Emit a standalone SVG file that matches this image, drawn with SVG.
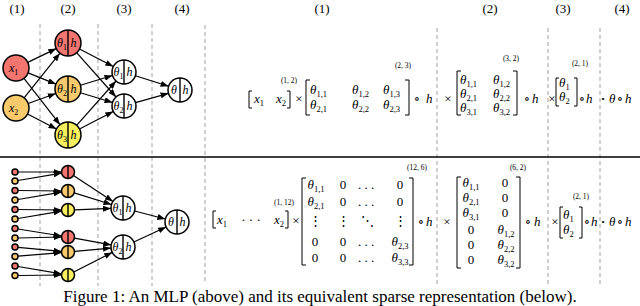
<svg xmlns="http://www.w3.org/2000/svg" width="640" height="306" viewBox="0 0 640 306">
<defs>
<marker id="ah" markerWidth="8" markerHeight="6" refX="8" refY="3" orient="auto" markerUnits="userSpaceOnUse">
<path d="M0,0 L8,3 L0,6 z" fill="#000"/>
</marker>
<style>
.n{stroke:#000;stroke-width:1.5}
.red{fill:#f37570}.org{fill:#f8ca6b}.yel{fill:#f8ef5e}.wht{fill:#fff}
.dv{stroke:#000;stroke-width:1.4}
.dash{stroke:#a0a0a0;stroke-width:1;stroke-dasharray:4,3}
.e{stroke:#000;stroke-width:1.2;fill:none;marker-end:url(#ah)}
.t{font-family:"Liberation Serif","DejaVu Serif",serif;font-size:12px;fill:#000}
.i{font-style:italic}
.s{font-size:8px;font-style:normal}
.sup{font-size:7px}
.lab{font-size:13px}
.br{fill:none;stroke:#000;stroke-width:1}
.m{text-anchor:middle}
.eq .t{font-size:13px}
.eq .s{font-size:8.5px}
.eq .sup{font-size:7.5px}
.eq .bul{font-size:9px}
.cap{font-size:17px}
</style>
</defs>
<rect width="640" height="306" fill="#fff"/>
<g id="guides">
<line class="dash" x1="40" y1="24" x2="40" y2="286"/>
<line class="dash" x1="98" y1="24" x2="98" y2="286"/>
<line class="dash" x1="152" y1="24" x2="152" y2="286"/>
<line class="dash" x1="205" y1="25" x2="205" y2="282"/>
<line class="dash" x1="437" y1="28" x2="437" y2="286"/>
<line class="dash" x1="548" y1="28" x2="548" y2="286"/>
<line class="dash" x1="600" y1="28" x2="600" y2="286"/>
<line x1="0" y1="157" x2="640" y2="157" stroke="#000" stroke-width="1.5"/>
</g>
<g id="labels">
<text class="t lab m" x="17" y="13">(1)</text>
<text class="t lab m" x="68" y="13">(2)</text>
<text class="t lab m" x="124" y="13">(3)</text>
<text class="t lab m" x="182" y="13">(4)</text>
<text class="t lab m" x="322" y="13">(1)</text>
<text class="t lab m" x="490" y="13">(2)</text>
<text class="t lab m" x="563" y="13">(3)</text>
<text class="t lab m" x="622" y="13">(4)</text>
</g>
<g id="connectors">
<line class="e" x1="27.7" y1="62.4" x2="56.3" y2="48.6"/>
<line class="e" x1="28.1" y1="72.9" x2="56.0" y2="84.1"/>
<line class="e" x1="24.0" y1="78.3" x2="60.0" y2="124.7"/>
<line class="e" x1="24.1" y1="97.8" x2="59.9" y2="53.2"/>
<line class="e" x1="28.2" y1="103.5" x2="55.8" y2="93.5"/>
<line class="e" x1="27.5" y1="114.0" x2="56.5" y2="129.0"/>
<line class="e" x1="79.5" y1="49.0" x2="113.3" y2="66.5"/>
<line class="e" x1="76.6" y1="52.7" x2="116.0" y2="97.0"/>
<line class="e" x1="80.4" y1="85.2" x2="112.5" y2="75.5"/>
<line class="e" x1="80.4" y1="92.8" x2="112.5" y2="102.5"/>
<line class="e" x1="76.6" y1="125.3" x2="116.0" y2="81.0"/>
<line class="e" x1="79.5" y1="129.0" x2="113.3" y2="111.5"/>
<line class="e" x1="135.4" y1="75.7" x2="168.6" y2="86.3"/>
<line class="e" x1="135.5" y1="102.7" x2="168.5" y2="93.3"/>
<line class="e" x1="18" y1="172" x2="61.5" y2="172"/>
<line class="e" x1="18" y1="180.5" x2="61.6" y2="173.1"/>
<line class="e" x1="18" y1="190.5" x2="61.5" y2="191"/>
<line class="e" x1="18" y1="199.5" x2="61.6" y2="192.1"/>
<line class="e" x1="18" y1="209.5" x2="61.5" y2="210"/>
<line class="e" x1="18" y1="218.5" x2="61.6" y2="211.1"/>
<line class="e" x1="18" y1="229" x2="61.6" y2="236"/>
<line class="e" x1="18" y1="238" x2="61.5" y2="237"/>
<line class="e" x1="18" y1="247.3" x2="61.5" y2="251.4"/>
<line class="e" x1="18" y1="256.2" x2="61.5" y2="252.6"/>
<line class="e" x1="18" y1="266.5" x2="61.6" y2="273.9"/>
<line class="e" x1="18" y1="275.5" x2="61.5" y2="275"/>
<line class="e" x1="73.4" y1="175.6" x2="113.0" y2="201.4"/>
<line class="e" x1="74.2" y1="192.9" x2="111.5" y2="204.5"/>
<line class="e" x1="74.5" y1="209.8" x2="111.0" y2="208.4"/>
<line class="e" x1="74.4" y1="238.2" x2="111.2" y2="244.9"/>
<line class="e" x1="74.5" y1="251.4" x2="111.0" y2="248.1"/>
<line class="e" x1="73.8" y1="272.0" x2="112.3" y2="252.4"/>
<line class="e" x1="134.6" y1="211.0" x2="165.4" y2="219.0"/>
<line class="e" x1="133.9" y1="242.0" x2="166.1" y2="227.0"/>
</g>
<g id="x1"><circle class="n red" cx="16" cy="68" r="13"/><text class="t i" x="9" y="72">x<tspan class="s" dy="3">1</tspan></text></g>
<g id="x2"><circle class="n org" cx="16" cy="108" r="13"/><text class="t i" x="9" y="112">x<tspan class="s" dy="3">2</tspan></text></g>
<g id="t1"><circle class="n red" cx="68" cy="43" r="13"/><line class="dv" x1="68" y1="30" x2="68" y2="56"/><text class="t i" x="57" y="47">θ<tspan class="s" dy="3">1</tspan></text><text class="t i" x="70.5" y="47">h</text></g>
<g id="t2"><circle class="n org" cx="68" cy="89" r="13"/><line class="dv" x1="68" y1="76" x2="68" y2="102"/><text class="t i" x="57" y="93">θ<tspan class="s" dy="3">2</tspan></text><text class="t i" x="70.5" y="93">h</text></g>
<g id="t3"><circle class="n yel" cx="68" cy="135" r="13"/><line class="dv" x1="68" y1="122" x2="68" y2="148"/><text class="t i" x="57" y="139">θ<tspan class="s" dy="3">3</tspan></text><text class="t i" x="70.5" y="139">h</text></g>
<g id="u1"><circle class="n wht" cx="124" cy="72" r="12"/><line class="dv" x1="124" y1="60" x2="124" y2="84"/><text class="t i" x="113.5" y="76">θ<tspan class="s" dy="3">1</tspan></text><text class="t i" x="126.5" y="76">h</text></g>
<g id="u2"><circle class="n wht" cx="124" cy="106" r="12"/><line class="dv" x1="124" y1="94" x2="124" y2="118"/><text class="t i" x="113.5" y="110">θ<tspan class="s" dy="3">2</tspan></text><text class="t i" x="126.5" y="110">h</text></g>
<g id="v"><circle class="n wht" cx="180" cy="90" r="12"/><line class="dv" x1="180" y1="78" x2="180" y2="102"/><text class="t i" x="171" y="94">θ</text><text class="t i" x="182.5" y="94">h</text></g>
<g id="inputs">
<circle class="n red" cx="15" cy="172" r="3" stroke-width="1.2"/>
<circle class="n org" cx="15" cy="181" r="3" stroke-width="1.2"/>
<circle class="n red" cx="15" cy="190.5" r="3" stroke-width="1.2"/>
<circle class="n org" cx="15" cy="200" r="3" stroke-width="1.2"/>
<circle class="n red" cx="15" cy="209.5" r="3" stroke-width="1.2"/>
<circle class="n org" cx="15" cy="219" r="3" stroke-width="1.2"/>
<circle class="n red" cx="15" cy="228.5" r="3" stroke-width="1.2"/>
<circle class="n org" cx="15" cy="238" r="3" stroke-width="1.2"/>
<circle class="n red" cx="15" cy="247" r="3" stroke-width="1.2"/>
<circle class="n org" cx="15" cy="256.5" r="3" stroke-width="1.2"/>
<circle class="n red" cx="15" cy="266" r="3" stroke-width="1.2"/>
<circle class="n org" cx="15" cy="275.5" r="3" stroke-width="1.2"/>
</g>
<g id="r1"><circle class="n red" cx="68" cy="172" r="6.5"/><line class="dv" x1="68" y1="165.5" x2="68" y2="178.5"/></g>
<g id="o1"><circle class="n org" cx="68" cy="191" r="6.5"/><line class="dv" x1="68" y1="184.5" x2="68" y2="197.5"/></g>
<g id="y1"><circle class="n yel" cx="68" cy="210" r="6.5"/><line class="dv" x1="68" y1="203.5" x2="68" y2="216.5"/></g>
<g id="r2"><circle class="n red" cx="68" cy="237" r="6.5"/><line class="dv" x1="68" y1="230.5" x2="68" y2="243.5"/></g>
<g id="o2"><circle class="n org" cx="68" cy="252" r="6.5"/><line class="dv" x1="68" y1="245.5" x2="68" y2="258.5"/></g>
<g id="y2"><circle class="n yel" cx="68" cy="275" r="6.5"/><line class="dv" x1="68" y1="268.5" x2="68" y2="281.5"/></g>
<g id="p1"><circle class="n wht" cx="123" cy="208" r="12"/><line class="dv" x1="123" y1="196" x2="123" y2="220"/><text class="t i" x="112.5" y="212">θ<tspan class="s" dy="3">1</tspan></text><text class="t i" x="125.5" y="212">h</text></g>
<g id="p2"><circle class="n wht" cx="123" cy="247" r="12"/><line class="dv" x1="123" y1="235" x2="123" y2="259"/><text class="t i" x="112.5" y="251">θ<tspan class="s" dy="3">2</tspan></text><text class="t i" x="125.5" y="251">h</text></g>
<g id="q"><circle class="n wht" cx="177" cy="222" r="12"/><line class="dv" x1="177" y1="210" x2="177" y2="234"/><text class="t i" x="168" y="226">θ</text><text class="t i" x="179.5" y="226">h</text></g>
<g id="eq-top" class="eq">
<path class="br" d="M252,91 H249 V108 H252"/>
<text class="t i" x="254" y="103">x<tspan class="s" dy="3">1</tspan></text>
<text class="t i" x="276" y="103">x<tspan class="s" dy="3">2</tspan></text>
<path class="br" d="M287,91 H290 V108 H287"/>
<text class="t sup m" x="289" y="83">(1, 2)</text>
<text class="t m" x="299" y="103">×</text>
<path class="br" d="M310,80 H306 V115 H310"/>
<text class="t i" x="310" y="94">θ<tspan class="s" dy="3">1,1</tspan></text>
<text class="t i" x="352" y="94">θ<tspan class="s" dy="3">1,2</tspan></text>
<text class="t i" x="383" y="94">θ<tspan class="s" dy="3">1,3</tspan></text>
<text class="t i" x="310" y="109">θ<tspan class="s" dy="3">2,1</tspan></text>
<text class="t i" x="352" y="109">θ<tspan class="s" dy="3">2,2</tspan></text>
<text class="t i" x="383" y="109">θ<tspan class="s" dy="3">2,3</tspan></text>
<path class="br" d="M405,80 H409 V115 H405"/>
<text class="t sup m" x="403" y="68">(2, 3)</text>
<text class="t m" x="417" y="103">∘</text>
<text class="t i" x="426" y="103">h</text>
<text class="t m" x="448" y="103">×</text>
<path class="br" d="M461,71 H457 V115 H461"/>
<text class="t i" x="460" y="84">θ<tspan class="s" dy="3">1,1</tspan></text>
<text class="t i" x="493" y="84">θ<tspan class="s" dy="3">1,2</tspan></text>
<text class="t i" x="460" y="98">θ<tspan class="s" dy="3">2,1</tspan></text>
<text class="t i" x="493" y="98">θ<tspan class="s" dy="3">2,2</tspan></text>
<text class="t i" x="460" y="112">θ<tspan class="s" dy="3">3,1</tspan></text>
<text class="t i" x="493" y="112">θ<tspan class="s" dy="3">3,2</tspan></text>
<path class="br" d="M513,71 H517 V115 H513"/>
<text class="t sup m" x="511" y="61">(3, 2)</text>
<text class="t m" x="527" y="103">∘</text>
<text class="t i" x="532" y="103">h</text>
<text class="t m" x="552" y="103">×</text>
<path class="br" d="M559,78 H556 V106 H559"/>
<text class="t i" x="559" y="87">θ<tspan class="s" dy="3">1</tspan></text>
<text class="t i" x="559" y="101">θ<tspan class="s" dy="3">2</tspan></text>
<path class="br" d="M574,78 H577 V106 H574"/>
<text class="t sup m" x="580" y="66">(2, 1)</text>
<text class="t m" x="582" y="103">∘</text>
<text class="t i" x="586" y="103">h</text>
<text class="t m bul" x="603" y="102">•</text>
<text class="t i" x="609" y="103">θ</text>
<text class="t m" x="620" y="103">∘</text>
<text class="t i" x="625" y="103">h</text>
</g>
<g id="eq-bottom" class="eq">
<path class="br" d="M216,211 H213 V228 H216"/>
<text class="t i" x="217" y="224">x<tspan class="s" dy="3">1</tspan></text>
<text class="t m" x="251" y="224">· · ·</text>
<text class="t i" x="274" y="224">x<tspan class="s" dy="3">2</tspan></text>
<path class="br" d="M285,211 H288 V228 H285"/>
<text class="t sup m" x="284" y="205">(1, 12)</text>
<text class="t m" x="296" y="225">×</text>
<path class="br" d="M306,178 H302 V265 H306"/>
<text class="t i m" x="316" y="189">θ<tspan class="s" dy="3">1,1</tspan></text>
<text class="t m" x="343" y="189">0</text>
<text class="t m" x="366" y="189">. . .</text>
<text class="t m" x="400" y="189">0</text>
<text class="t i m" x="316" y="205.5">θ<tspan class="s" dy="3">2,1</tspan></text>
<text class="t m" x="343" y="205.5">0</text>
<text class="t m" x="366" y="205.5">. . .</text>
<text class="t m" x="400" y="205.5">0</text>
<text class="t m" x="315" y="225">⋮</text>
<text class="t m" x="343" y="225">⋮</text>
<text class="t m" x="367" y="225">⋱</text>
<text class="t m" x="400" y="225">⋮</text>
<text class="t m" x="315" y="246">0</text>
<text class="t m" x="343" y="246">0</text>
<text class="t m" x="366" y="246">. . .</text>
<text class="t i m" x="400" y="246">θ<tspan class="s" dy="3">2,3</tspan></text>
<text class="t m" x="315" y="262">0</text>
<text class="t m" x="343" y="262">0</text>
<text class="t m" x="366" y="262">. . .</text>
<text class="t i m" x="400" y="262">θ<tspan class="s" dy="3">3,3</tspan></text>
<path class="br" d="M409,178 H413 V265 H409"/>
<text class="t sup m" x="417" y="170">(12, 6)</text>
<text class="t m" x="421" y="226">∘</text>
<text class="t i" x="426" y="226">h</text>
<text class="t m" x="447" y="226">×</text>
<path class="br" d="M461,177 H457 V268 H461"/>
<text class="t i m" x="471" y="187">θ<tspan class="s" dy="3">1,1</tspan></text>
<text class="t m" x="505" y="187">0</text>
<text class="t i m" x="471" y="202">θ<tspan class="s" dy="3">2,1</tspan></text>
<text class="t m" x="505" y="202">0</text>
<text class="t i m" x="471" y="217">θ<tspan class="s" dy="3">3,1</tspan></text>
<text class="t m" x="505" y="217">0</text>
<text class="t m" x="471" y="234">0</text>
<text class="t i m" x="506" y="234">θ<tspan class="s" dy="3">1,2</tspan></text>
<text class="t m" x="471" y="249">0</text>
<text class="t i m" x="506" y="249">θ<tspan class="s" dy="3">2,2</tspan></text>
<text class="t m" x="471" y="264">0</text>
<text class="t i m" x="506" y="264">θ<tspan class="s" dy="3">3,2</tspan></text>
<path class="br" d="M516,177 H520 V268 H516"/>
<text class="t sup m" x="518" y="170">(6, 2)</text>
<text class="t m" x="528" y="226">∘</text>
<text class="t i" x="534" y="226">h</text>
<text class="t m" x="555" y="226">×</text>
<path class="br" d="M563,207 H560 V238 H563"/>
<text class="t i" x="563" y="219">θ<tspan class="s" dy="3">1</tspan></text>
<text class="t i" x="563" y="234">θ<tspan class="s" dy="3">2</tspan></text>
<path class="br" d="M579,207 H582 V238 H579"/>
<text class="t sup m" x="581" y="199">(2, 1)</text>
<text class="t m" x="587" y="226">∘</text>
<text class="t i" x="591" y="226">h</text>
<text class="t m bul" x="603" y="225">•</text>
<text class="t i" x="609" y="226">θ</text>
<text class="t m" x="620" y="226">∘</text>
<text class="t i" x="625" y="226">h</text>
</g>
<text id="caption" class="t m cap" x="320" y="302">Figure 1: An MLP (above) and its equivalent sparse representation (below).</text>
</svg>
